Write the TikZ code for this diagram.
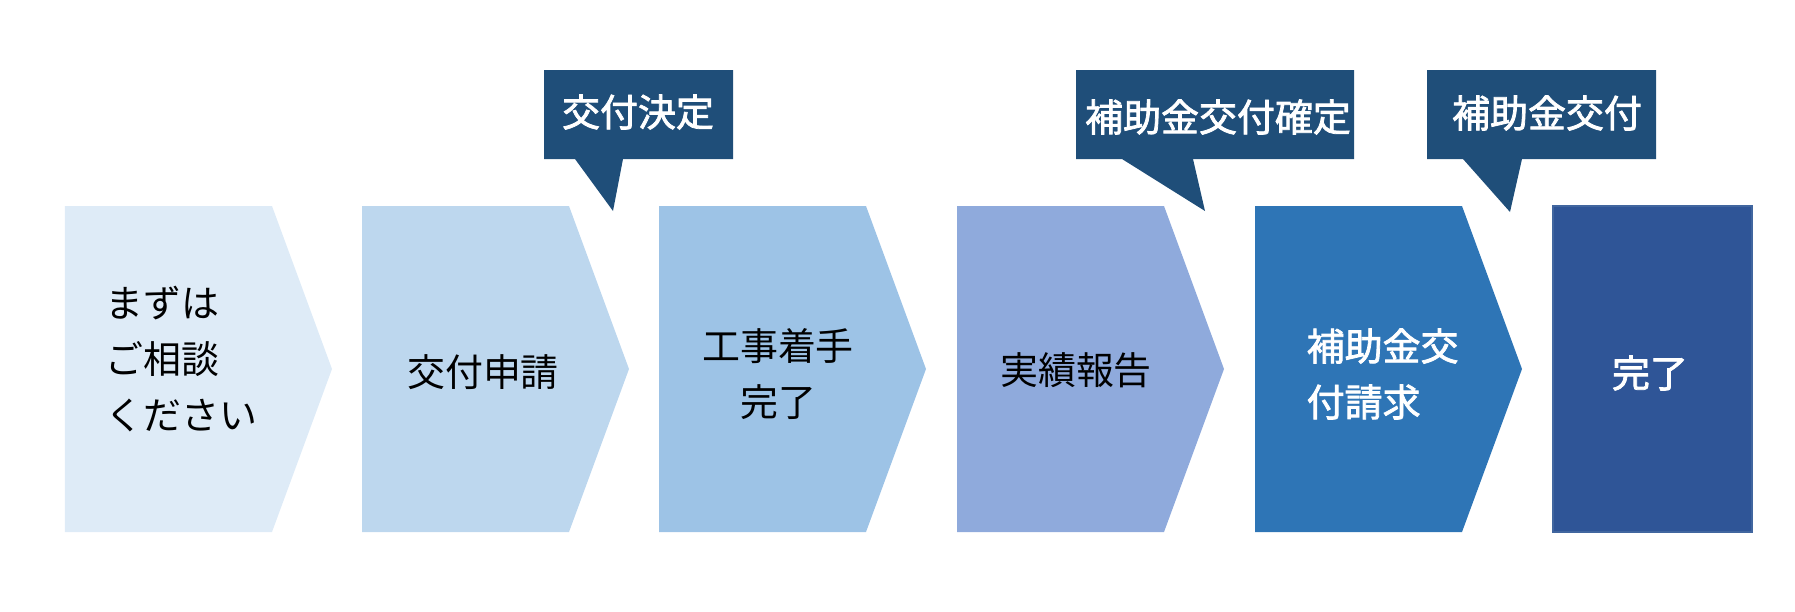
\documentclass[tikz,border=0pt]{standalone}
\usepackage{fontspec}
\setmainfont{Noto Sans CJK JP}
\newfontfamily\wfont{Noto Sans CJK JP}[FakeBold=2]
\usepackage{tikz}
\definecolor{boxa}{HTML}{DEEBF7}
\definecolor{boxb}{HTML}{BDD7EE}
\definecolor{boxc}{HTML}{9DC3E6}
\definecolor{boxd}{HTML}{8FAADC}
\definecolor{boxe}{HTML}{2E75B6}
\definecolor{boxf}{HTML}{2F5597}
\definecolor{boxfline}{HTML}{41669F}
\definecolor{callout}{HTML}{1F4E79}

\begin{document}
\begin{tikzpicture}[
	lbl/.style = {font=\fontsize{10.8}{15.9}\selectfont, align=center, inner sep=0pt},
	wlbl/.style = {lbl, text=white, font=\fontsize{10.8}{15.9}\selectfont\wfont},
]
	\useasboundingbox (0,0) rectangle (17.95,6.11);
	% steps
	\fill[boxa] (0.65,0.79) -- (0.65,4.05) -- (2.72,4.05) -- (3.32,2.42) -- (2.72,0.79) -- cycle;
	\fill[boxb] (3.62,0.79) -- (3.62,4.05) -- (5.69,4.05) -- (6.29,2.42) -- (5.69,0.79) -- cycle;
	\fill[boxc] (6.59,0.79) -- (6.59,4.05) -- (8.66,4.05) -- (9.26,2.42) -- (8.66,0.79) -- cycle;
	\fill[boxd] (9.57,0.79) -- (9.57,4.05) -- (11.64,4.05) -- (12.24,2.42) -- (11.64,0.79) -- cycle;
	\fill[boxe] (12.55,0.79) -- (12.55,4.05) -- (14.62,4.05) -- (15.22,2.42) -- (14.62,0.79) -- cycle;
	\filldraw[fill=boxf, draw=boxfline, line width=0.8pt] (15.53,0.79) rectangle (17.52,4.05);
	% callouts
	\fill[callout] (5.44,4.52) -- (5.75,4.52) -- (6.13,4.00) -- (6.23,4.52) -- (7.33,4.52) -- (7.33,5.41) -- (5.44,5.41) -- cycle;
	\fill[callout] (10.76,4.52) -- (11.22,4.52) -- (12.05,4.00) -- (11.93,4.52) -- (13.54,4.52) -- (13.54,5.41) -- (10.76,5.41) -- cycle;
	\fill[callout] (14.27,4.52) -- (14.63,4.52) -- (15.10,3.99) -- (15.22,4.52) -- (16.56,4.52) -- (16.56,5.41) -- (14.27,5.41) -- cycle;
	% texts
	\node[lbl, align=left, anchor=west] (consult) at (1.05,2.52) {まずは\\ご相談\\ください};
	\node[lbl] (apply) at (4.83,2.39) {交付申請};
	\node[lbl] (start) at (7.78,2.37) {工事着手\\完了};
	\node[lbl] (report) at (10.76,2.41) {実績報告};
	\node[wlbl, align=left, anchor=west] (claim) at (13.06,2.37) {補助金交\\付請求};
	\node[wlbl] (done) at (16.50,2.38) {完了};
	\node[wlbl] (decide) at (6.38,4.99) {交付決定};
	\node[wlbl] (fix) at (12.18,4.94) {補助金交付確定};
	\node[wlbl] (pay) at (15.47,4.98) {補助金交付};
\end{tikzpicture}
\end{document}
